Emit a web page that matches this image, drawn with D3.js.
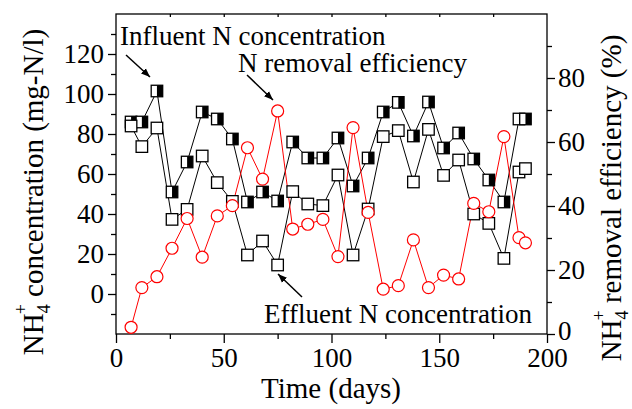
<!DOCTYPE html>
<html>
<head>
<meta charset="utf-8">
<script src="https://cdn.jsdelivr.net/npm/d3@7"></script>
<style>
  html, body { margin: 0; padding: 0; background: #fff; }
  svg { display: block; }
  text { font-family: "Liberation Serif", "Times New Roman", serif; fill: #000; }
</style>
</head>
<body>
<svg id="chart" width="632" height="409"></svg>
<script>
// ---- data ----
const days = [7, 12, 19, 26, 33, 40, 47, 54, 61, 68, 75, 82, 89, 96, 103, 110, 117, 124, 131, 138, 145, 152, 159, 166, 173, 180, 187, 190];
const influent = [86, 86, 101.5, 51, 66, 91, 87.5, 77.5, 46, 51, 46.5, 76, 68, 68, 78, 54, 68, 91, 95.8, 79, 96, 73, 80.5, 67.5, 57, 46, 87.5, 87.5];
const effluent = [84, 73.7, 83, 37.3, 42.3, 69, 55.7, 46.3, 19.5, 26.5, 14.5, 51.2, 45, 44.2, 59.5, 19.5, 42.5, 78.7, 81.7, 56, 82.3, 59.3, 67, 40, 35.3, 17.8, 61, 62.7];
const removal = [2.1, 14.5, 17.9, 26.8, 36.1, 24, 36.9, 40.1, 58.2, 48.4, 69.7, 32.8, 34.3, 35.8, 24.2, 64.5, 38, 14, 15.1, 29.4, 14.5, 18.4, 17.2, 40.8, 38.2, 61.7, 30.1, 28.5];
const xTicks = [0, 50, 100, 150, 200];
const yLeftTicks = [0, 20, 40, 60, 80, 100, 120];
const yRightTicks = [0, 20, 40, 60, 80];

const svg = d3.select("#chart");
const L = 116, R = 547, T = 14, B = 334;
const x = d3.scaleLinear().domain([0, 200]).range([L, R]);
const yL = d3.scaleLinear().domain([-20, 140]).range([B, T]);
const yR = d3.scaleLinear().domain([0, 100]).range([B, T]);

const tickFont = 27;

// frame
svg.append("rect").attr("x", L).attr("y", T).attr("width", R - L).attr("height", B - T)
  .attr("fill", "none").attr("stroke", "#000").attr("stroke-width", 1.3);

// bottom axis
svg.append("g").attr("transform", `translate(0,${B})`)
  .call(d3.axisBottom(x).tickValues(xTicks).tickSize(9).tickSizeOuter(0).tickPadding(5).tickFormat(d3.format("d")));
svg.append("g").attr("transform", `translate(0,${B})`)
  .call(d3.axisBottom(x).tickValues(d3.range(25, 200, 50)).tickSize(5).tickSizeOuter(0).tickFormat(""));
// top minor ticks
svg.append("g").attr("transform", `translate(0,${T})`)
  .call(d3.axisBottom(x).tickValues(d3.range(25, 200, 25)).tickSize(3).tickSizeOuter(0).tickFormat(""));

// left axis
svg.append("g").attr("transform", `translate(${L},0)`)
  .call(d3.axisLeft(yL).tickValues(yLeftTicks).tickSize(8).tickSizeOuter(0).tickPadding(4).tickFormat(d3.format("d")));
svg.append("g").attr("transform", `translate(${L},0)`)
  .call(d3.axisLeft(yL).tickValues(d3.range(-10, 140, 20)).tickSize(5).tickSizeOuter(0).tickFormat(""));

// right axis
const gr = svg.append("g").attr("transform", `translate(${R},0)`)
  .call(d3.axisRight(yR).tickValues(yRightTicks).tickSize(8).tickSizeOuter(0).tickPadding(3).tickFormat(d3.format("d")));
svg.append("g").attr("transform", `translate(${R},0)`)
  .call(d3.axisRight(yR).tickValues(d3.range(10, 100, 20)).tickSize(5).tickSizeOuter(0).tickFormat(""));

svg.selectAll(".domain").attr("stroke", "none");
svg.selectAll(".tick line").attr("stroke", "#000").attr("stroke-width", 1.3);
svg.selectAll(".tick text").attr("font-size", tickFont).attr("font-family", "Liberation Serif").attr("fill", "#000");
// lift the right-axis "0" slightly so it clears the "200" label
gr.selectAll(".tick text").filter(d => d === 0).attr("dy", "0.2em");

// axis titles
svg.append("text").attr("x", 331).attr("y", 398).attr("text-anchor", "middle")
  .attr("font-size", 29).text("Time (days)");

function nh4Title(g, rest) {
  const t = g.append("text").attr("text-anchor", "middle").attr("font-size", 29);
  t.append("tspan").text("NH");
  t.append("tspan").attr("font-size", 18).attr("dy", 7).text("4");
  t.append("tspan").attr("font-size", 18).attr("dx", -10).attr("dy", -23).text("+");
  t.append("tspan").attr("dy", 16).text(rest);
  return t;
}
nh4Title(svg.append("g").attr("transform", "translate(43,192) rotate(-90)"), " concentration (mg-N/l)");
nh4Title(svg.append("g").attr("transform", "translate(621,198) rotate(-90)"), " removal efficiency (%)");

// lines
const lineL = (vals) => d3.line().x((d, i) => x(days[i])).y(d => yL(d))(vals);
const lineR = d3.line().x((d, i) => x(days[i])).y(d => yR(d));
svg.append("path").attr("d", lineL(influent)).attr("fill", "none").attr("stroke", "#000").attr("stroke-width", 1);
svg.append("path").attr("d", lineL(effluent)).attr("fill", "none").attr("stroke", "#000").attr("stroke-width", 1);
svg.append("path").attr("d", lineR(removal)).attr("fill", "none").attr("stroke", "#f00").attr("stroke-width", 1);

// markers
const S = 11.5;
const infG = svg.append("g");
influent.forEach((v, i) => {
  const cx = x(days[i]), cy = yL(v);
  infG.append("rect").attr("x", cx - S / 2).attr("y", cy - S / 2).attr("width", S).attr("height", S)
    .attr("fill", "#fff").attr("stroke", "#000").attr("stroke-width", 1.3);
  infG.append("rect").attr("x", cx).attr("y", cy - S / 2).attr("width", S / 2).attr("height", S)
    .attr("fill", "#000");
});
svg.append("g").selectAll("rect").data(effluent).join("rect")
  .attr("x", (d, i) => x(days[i]) - S / 2).attr("y", d => yL(d) - S / 2)
  .attr("width", S).attr("height", S)
  .attr("fill", "#fff").attr("stroke", "#000").attr("stroke-width", 1.3);
svg.append("g").selectAll("circle").data(removal).join("circle")
  .attr("cx", (d, i) => x(days[i])).attr("cy", d => yR(d)).attr("r", 6)
  .attr("fill", "#fff").attr("stroke", "#f00").attr("stroke-width", 1.2);

// annotations
svg.append("text").attr("x", 120).attr("y", 45).attr("font-size", 27).text("Influent N concentration");
svg.append("text").attr("x", 238).attr("y", 72).attr("font-size", 27).text("N removal efficiency");
svg.append("text").attr("x", 264).attr("y", 323).attr("font-size", 27).text("Effluent N concentration");

svg.append("defs").append("marker").attr("id", "ah").attr("viewBox", "0 0 10 10")
  .attr("refX", 10).attr("refY", 5).attr("markerWidth", 9).attr("markerHeight", 9)
  .attr("markerUnits", "userSpaceOnUse").attr("orient", "auto")
  .append("path").attr("d", "M0,1 L10,5 L0,9 Z").attr("fill", "#000");
const arrows = [[126, 55, 150, 77], [247, 75, 273, 100], [302, 297, 278, 274]];
arrows.forEach(a => {
  svg.append("line").attr("x1", a[0]).attr("y1", a[1]).attr("x2", a[2]).attr("y2", a[3])
    .attr("stroke", "#000").attr("stroke-width", 1.5).attr("marker-end", "url(#ah)");
});
</script>
</body>
</html>
